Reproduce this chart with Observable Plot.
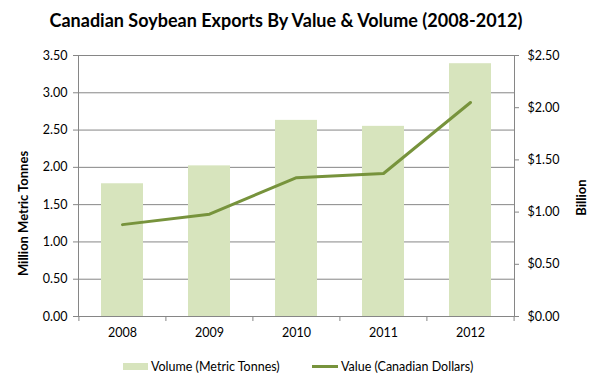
<!DOCTYPE html>
<html>
<head>
<meta charset="utf-8">
<script src="https://cdn.jsdelivr.net/npm/d3@7"></script>
<script src="https://cdn.jsdelivr.net/npm/@observablehq/plot@0.6"></script>
<style>
  html, body { margin: 0; padding: 0; background: #fff; }
  body { width: 601px; height: 391px; overflow: hidden; font-family: Lato, "Open Sans", sans-serif; color: #000; }
  #title { height: 40px; width: 601px; position: relative; }
  #title span { position: absolute; left: 286px; top: 9px; transform: translateX(-50%); white-space: nowrap; font-weight: bold; font-size: 18px; }
  #chart svg { display: block; }
  #legend { position: relative; height: 51px; width: 601px; font-size: 12.5px; }
  .item { position: absolute; top: 19px; display: flex; align-items: center; white-space: nowrap; }
  .sw-bar { width: 25px; height: 7px; background: #d7e4bd; margin-right: 3px; }
  .sw-line { width: 26px; height: 3px; background: #77933c; margin-right: 3px; }
</style>
</head>
<body>
<div id="title"><span>Canadian Soybean Exports By Value &amp; Volume (2008-2012)</span></div>
<div id="chart"></div>
<div id="legend"></div>
<script>
const years = ["2008", "2009", "2010", "2011", "2012"];
const volume = [1.78, 2.02, 2.63, 2.55, 3.39];   // million metric tonnes
const value = [0.88, 0.98, 1.33, 1.37, 2.05];    // billion CAD
const leftTicks = [0, 0.5, 1, 1.5, 2, 2.5, 3, 3.5];
const rightTicks = [0, 0.5, 1, 1.5, 2, 2.5];
const leftLabel = "Million Metric Tonnes";
const rightLabel = "Billion";
const seriesNames = ["Volume (Metric Tonnes)", "Value (Canadian Dollars)"];

const leftMax = 3.5, rightMax = 2.5;
const ratio = leftMax / rightMax;
const data = years.map((y, i) => ({year: y, volume: volume[i], value: value[i]}));

const W = 601, H = 300, mL = 78, mR = 87, mT = 15, mB = 24;
const step = (W - mL - mR) / years.length;
const pad = 0.52;

const chart = Plot.plot({
  width: W, height: H,
  marginTop: mT, marginBottom: mB, marginLeft: mL, marginRight: mR,
  style: {fontFamily: "Lato, 'Open Sans', sans-serif", fontSize: "12.5px", color: "#000", background: "#fff"},
  x: {type: "band", domain: years, paddingInner: pad, paddingOuter: pad / 2},
  y: {domain: [0, leftMax]},
  marks: [
    Plot.gridY(leftTicks, {stroke: "#868686", strokeOpacity: 1}),
    Plot.barY(data, {x: "year", y: "volume", fill: "#d7e4bd"}),
    Plot.line(data, {x: "year", y: d => d.value * ratio, stroke: "#77933c", strokeWidth: 3}),
    Plot.frame({stroke: "#868686"}),
    Plot.axisY(leftTicks, {anchor: "left", tickFormat: d => d.toFixed(2), tickSize: 5, tickPadding: 6, stroke: "#868686", fill: "#000", label: null}),
    Plot.axisY(rightTicks.map(d => d * ratio), {anchor: "right", tickFormat: d => "$" + (d / ratio).toFixed(2), tickSize: 4, tickPadding: 9, stroke: "#868686", fill: "#000", label: null}),
    Plot.axisX({tickSize: 0, tickPadding: 12, fill: "#000", label: null}),
    Plot.ruleX(years, {x: d => d, dx: -step / 2, y1: 0, y2: 0, insetBottom: -5, stroke: "#868686"}),
    Plot.ruleX([years[years.length - 1]], {x: d => d, dx: step / 2, y1: 0, y2: 0, insetBottom: -5, stroke: "#868686"}),
    Plot.text([leftLabel], {frameAnchor: "left", textAnchor: "middle", dx: -55, dy: 27.5, rotate: -90, fontWeight: "bold", fontSize: 13, fill: "#000"}),
    Plot.text([rightLabel], {frameAnchor: "right", textAnchor: "middle", dx: 67, dy: 11.5, rotate: -90, fontWeight: "bold", fontSize: 13, fill: "#000"})
  ]
});
document.getElementById("chart").appendChild(chart);

const legend = document.getElementById("legend");
legend.innerHTML =
  `<div class="item" style="left:123px"><div class="sw-bar"></div><span>${seriesNames[0]}</span></div>` +
  `<div class="item" style="left:312px"><div class="sw-line"></div><span>${seriesNames[1]}</span></div>`;
</script>
</body>
</html>
